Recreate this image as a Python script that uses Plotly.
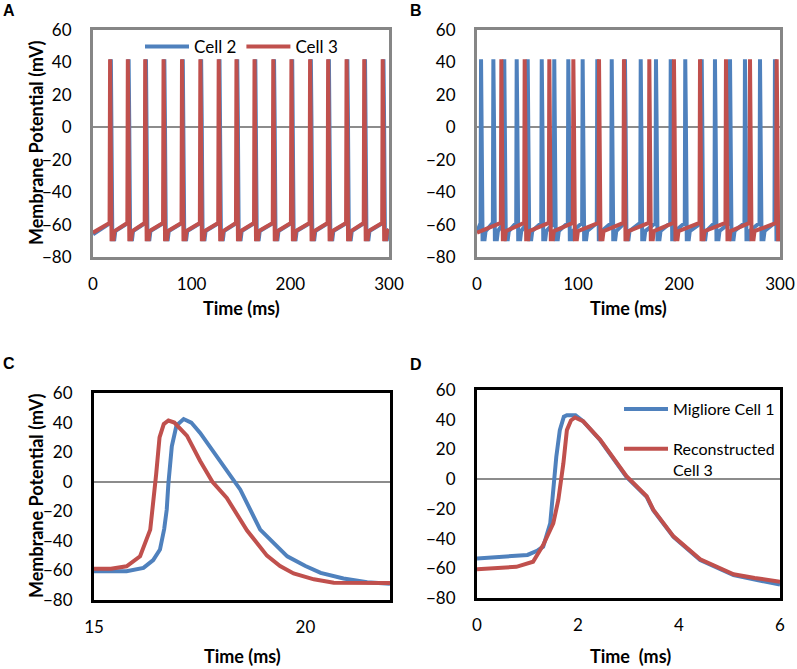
import plotly.graph_objects as go

BLUE = "#4F81BD"
RED = "#C0504D"
FONT = "Lato"

# Panel A: spike peak times (ms)
a_cell2_spikes = [18.1, 36.1, 53.7, 72.3, 91.0, 109.6, 128.2, 146.2, 164.5, 183.5, 201.9, 220.8, 239.1, 257.8, 275.7, 294.4]
a_cell3_spikes = [17.3, 35.3, 52.9, 71.5, 90.2, 108.8, 127.4, 145.4, 163.7, 182.7, 201.1, 220.0, 238.3, 257.0, 274.9, 293.6]

# Panel B: spike peak times (ms)
b_cell2_spikes = [4.0, 16.2, 27.0, 39.3, 50.2, 64.1, 76.5, 90.4, 104.6, 119.1, 133.4, 146.5,
                  162.1, 177.2, 191.8, 206.2, 222.5, 235.6, 250.5, 265.3, 280.2, 295.0]
b_cell3_spikes = [24.1, 47.2, 71.6, 95.4, 120.8, 145.5, 170.6, 195.0, 220.8, 246.5, 270.3, 296.7]

# spike shape: offset from peak (ms) and membrane potential (mV)
spike_offsets = [-0.5, 0.0, 0.6, 1.5, 3.5, 4.5]
spike_volts = [-59, 42, 5, -69, -69, -64]

# Panel C: single action potentials (ms, mV)
c_cell2_t = [15.0, 15.77, 16.17, 16.4, 16.56, 16.66, 16.72, 16.76, 16.84, 16.95, 17.12, 17.3, 17.51,
             17.99, 18.46, 18.93, 19.57, 20.0, 20.36, 20.9, 21.46, 22.0]
c_cell2_v = [-60.6, -60.6, -58.3, -53.0, -45.9, -32.0, -18.9, -1.0, 24.0, 38.0, 42.4, 40.0, 33.0,
             13.0, -5.4, -32.4, -50.5, -57.0, -61.7, -65.5, -68.0, -69.0]
c_cell3_t = [15.0, 15.4, 15.77, 16.09, 16.33, 16.42, 16.47, 16.55, 16.65, 16.76, 16.9, 17.2, 17.51,
             17.8, 18.14, 18.62, 19.09, 19.4, 19.72, 20.2, 20.67, 22.0]
c_cell3_v = [-58.8, -58.8, -57.2, -50.4, -32.4, -10.0, 5.0, 30.0, 39.0, 41.4, 40.0, 31.0, 14.0,
             0.0, -11.0, -33.0, -50.0, -57.0, -62.0, -66.0, -68.3, -68.5]

# Panel D: Migliore cell 1 vs reconstructed cell 3 (ms, mV)
d_migliore_t = [0.0, 0.5, 1.0, 1.2, 1.31, 1.45, 1.51, 1.57, 1.64, 1.72, 1.78, 1.95, 2.1, 2.44,
                2.96, 3.36, 3.49, 3.89, 4.42, 5.08, 5.5, 6.0]
d_migliore_v = [-53.4, -52.5, -51.0, -48.0, -45.5, -29.8, -7.4, 15.0, 33.0, 42.0, 43.0, 43.0, 39.0, 26.2,
                1.5, -11.9, -20.9, -38.8, -54.5, -64.6, -67.5, -71.0]
d_recon_t = [0.0, 0.78, 1.11, 1.31, 1.51, 1.61, 1.71, 1.78, 1.86, 1.94, 2.1, 2.44,
             2.96, 3.36, 3.49, 3.89, 4.42, 5.08, 5.5, 6.0]
d_recon_v = [-60.6, -59.0, -55.6, -44.4, -29.8, -14.0, 10.6, 33.0, 39.5, 41.5, 39.0, 26.5,
             2.0, -11.5, -20.5, -38.5, -54.0, -64.0, -66.5, -69.0]


def spike_train(spikes, v_start, v_end, t_end=300):
    xs, ys = [0], [v_start]
    for s in spikes:
        for dt, v in zip(spike_offsets, spike_volts):
            xs.append(s + dt)
            ys.append(v)
    if xs[-1] < t_end:
        xs.append(t_end)
        ys.append(v_end)
    return xs, ys


fig = go.Figure()

# panel A
x, y = spike_train(a_cell2_spikes, -66, -63)
fig.add_trace(go.Scatter(x=x, y=y, mode="lines", name="Cell 2", line=dict(color=BLUE, width=4),
                         xaxis="x", yaxis="y", legend="legend"))
x, y = spike_train(a_cell3_spikes, -65, -63)
fig.add_trace(go.Scatter(x=x, y=y, mode="lines", name="Cell 3", line=dict(color=RED, width=4),
                         xaxis="x", yaxis="y", legend="legend"))

# panel B
x, y = spike_train(b_cell2_spikes, -65, -62)
fig.add_trace(go.Scatter(x=x, y=y, mode="lines", line=dict(color=BLUE, width=4),
                         xaxis="x2", yaxis="y2", showlegend=False))
x, y = spike_train(b_cell3_spikes, -65, -62)
fig.add_trace(go.Scatter(x=x, y=y, mode="lines", line=dict(color=RED, width=4),
                         xaxis="x2", yaxis="y2", showlegend=False))

# panel C
fig.add_trace(go.Scatter(x=c_cell2_t, y=c_cell2_v, mode="lines", line=dict(color=BLUE, width=4),
                         xaxis="x3", yaxis="y3", showlegend=False))
fig.add_trace(go.Scatter(x=c_cell3_t, y=c_cell3_v, mode="lines", line=dict(color=RED, width=4),
                         xaxis="x3", yaxis="y3", showlegend=False))

# panel D
fig.add_trace(go.Scatter(x=d_migliore_t, y=d_migliore_v, mode="lines", name="Migliore Cell 1",
                         line=dict(color=BLUE, width=4), xaxis="x4", yaxis="y4",
                         legend="legend2", legendgroup="mig"))
fig.add_trace(go.Scatter(x=d_recon_t, y=d_recon_v, mode="lines", name="Reconstructed<br>Cell 3",
                         line=dict(color=RED, width=4), xaxis="x4", yaxis="y4",
                         legend="legend2", legendgroup="rec"))

W, H = 797, 669


def xdom(l, r):
    return [l / W, r / W]


def ydom(t, b):
    return [1 - b / H, 1 - t / H]


def xaxis(dom, rng, tickvals, anchor, color):
    return dict(domain=dom, range=rng, tickvals=tickvals, anchor=anchor, showgrid=False,
                zeroline=False, showline=True, mirror=True, linecolor=color, linewidth=3,
                ticks="", ticklabelstandoff=10, tickfont=dict(family=FONT, size=17, color="black"))


def yaxis(dom, anchor, color):
    return dict(domain=dom, range=[-80, 60], dtick=20, anchor=anchor, showgrid=False,
                zeroline=True, zerolinecolor="#8C8C8C", zerolinewidth=2,
                showline=True, mirror=True, linecolor=color, linewidth=3,
                ticks="", ticklabelstandoff=15, tickfont=dict(family=FONT, size=17, color="black"))


GREY = "#868686"
fig.update_layout(
    width=W, height=H,
    margin=dict(l=0, r=0, t=0, b=0, autoexpand=False),
    paper_bgcolor="white", plot_bgcolor="white",
    xaxis=xaxis(xdom(93, 389), [0, 300], [0, 100, 200, 300], "y", GREY),
    yaxis=yaxis(ydom(30, 257), "x", GREY),
    xaxis2=xaxis(xdom(477, 780), [0, 300], [0, 100, 200, 300], "y2", GREY),
    yaxis2=yaxis(ydom(30, 257), "x2", GREY),
    xaxis3=xaxis(xdom(94, 390), [15, 22], [15, 20], "y3", "black"),
    yaxis3=yaxis(ydom(393, 600), "x3", "black"),
    xaxis4=xaxis(xdom(477, 780), [0, 6], [0, 2, 4, 6], "y4", "black"),
    yaxis4=yaxis(ydom(390, 598), "x4", "black"),
    legend=dict(x=140 / W, y=1 - 29 / H, xanchor="left", yanchor="top", orientation="h",
                itemwidth=44, bgcolor="rgba(0,0,0,0)",
                font=dict(family=FONT, size=17, color="black")),
    legend2=dict(x=619 / W, y=1 - 392 / H, xanchor="left", yanchor="top", valign="top",
                 itemwidth=44, bgcolor="rgba(0,0,0,0)", tracegroupgap=16,
                 font=dict(family=FONT, size=16, color="black")),
)

letters = [("A", 9, 11), ("B", 416, 11), ("C", 9, 363), ("D", 416, 365)]
for text, px, py in letters:
    fig.add_annotation(x=px / W, y=1 - py / H, xref="paper", yref="paper", text=f"<b>{text}</b>",
                       xanchor="center", yanchor="middle", showarrow=False,
                       font=dict(family="Liberation Sans", size=16, color="black"))

titles = [
    ("Membrane Potential (mV)", 36, 143, -90),
    ("Membrane Potential (mV)", 36, 496, -90),
    ("Time (ms)", 241, 308, 0),
    ("Time (ms)", 628, 308, 0),
    ("Time (ms)", 242, 656, 0),
    ("Time  (ms)", 630, 656, 0),
]
for text, px, py, ang in titles:
    fig.add_annotation(x=px / W, y=1 - py / H, xref="paper", yref="paper", text=f"<b>{text}</b>",
                       textangle=ang, xanchor="center", yanchor="middle", showarrow=False,
                       font=dict(family=FONT, size=18, color="black"))

fig.write_html("out.html", config={"displayModeBar": False},
               post_script="document.body.style.margin = '0';")
